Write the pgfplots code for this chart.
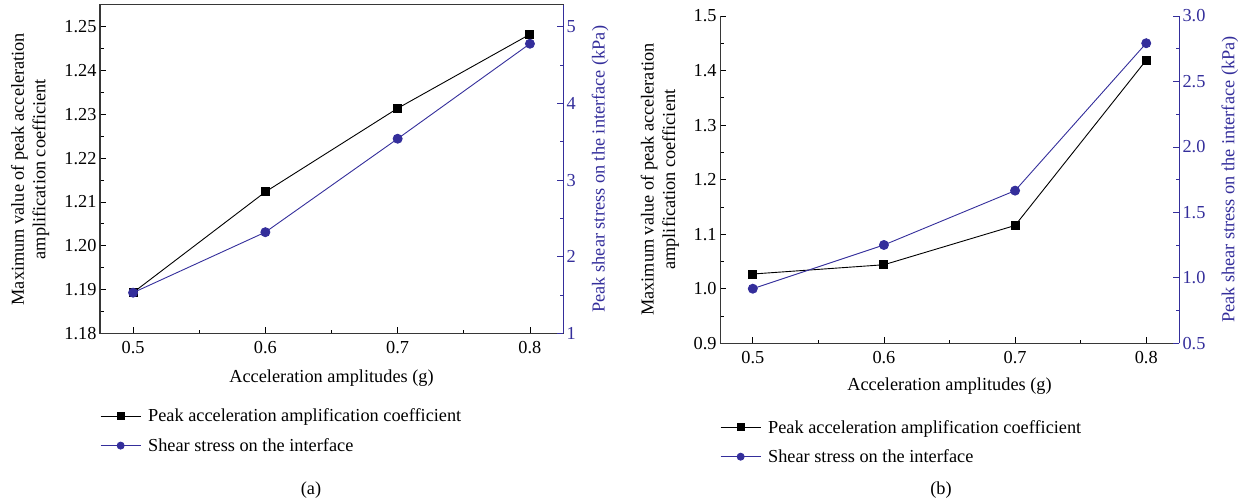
\documentclass[border=0pt]{standalone}
\usepackage{pgfplots}
\pgfplotsset{compat=1.18}
\usepackage{fontspec}
\setmainfont{Liberation Serif}
\definecolor{sblue}{RGB}{52,46,155}
\definecolor{axgray}{RGB}{55,55,55}
\newcommand{\fs}{\fontsize{18.3}{21.5}\selectfont}

\pgfplotsset{
  base/.style={
    scale only axis,
    xmin=0.475, xmax=0.825,
    tick align=inside,
    major tick length=6pt, minor tick length=3.5pt,
    every tick/.style={line width=0.8pt},
    axis line style={line width=1pt},
    tick label style={font=\fs},
    label style={font=\fs},
    /pgf/number format/assume math mode=true,
    /pgf/number format/fixed,
    /pgf/number format/fixed zerofill,
  },
  blk/.style={black, line width=0.9pt, mark=square*, mark size=4pt, mark options={solid}},
  blu/.style={sblue, line width=0.9pt, mark=*, mark size=4.5pt, mark options={solid}},
  leg/.style={
    legend style={draw=none, fill=none, font=\fs, anchor=north west,
      inner sep=0pt, row sep=11pt, column sep=5pt, nodes={inner sep=2pt}},
    legend cell align=left,
    legend image code/.code={\draw[mark repeat=2,mark phase=2,mark size=3.5pt] plot coordinates {(0pt,0pt) (20pt,0pt) (40pt,0pt)};},
  },
}

\begin{document}
\begin{tikzpicture}[x=1pt,y=1pt]
\path[use as bounding box] (0,0) rectangle (1246,502);

% ---------------- (a) ----------------
\begin{axis}[base,
  at={(100pt,168.7pt)}, anchor=south west,
  width=463pt, height=328.3pt,
  xtick pos=bottom, ytick pos=left,
  axis line style={line width=1pt, color=axgray},
  xtick={0.5,0.6,0.7,0.8}, minor x tick num=1,
  xticklabel style={/pgf/number format/precision=1, yshift=-5pt},
  ymin=1.18, ymax=1.255,
  ytick={1.18,1.19,1.20,1.21,1.22,1.23,1.24,1.25}, minor y tick num=1,
  yticklabel style={/pgf/number format/precision=2},
  xlabel={Acceleration amplitudes (g)},
  xlabel style={at={(axis description cs:0.5,-0.136)}, anchor=center},
  ylabel={Maximum value of peak acceleration\\amplification coefficient},
  ylabel style={at={(axis description cs:-0.151,0.5)}, anchor=center, align=center},
]
\addplot[blk] coordinates {(0.5,1.1893) (0.6,1.2123) (0.7,1.2314) (0.8,1.2483)};
\end{axis}
\begin{axis}[base, leg,
  at={(100pt,168.7pt)}, anchor=south west,
  width=463pt, height=328.3pt,
  axis x line=none, axis y line*=right,
  axis line style={line width=1pt, color=sblue},
  ytick style={sblue},
  yticklabel style={sblue, /pgf/number format/precision=0, /pgf/number format/fixed zerofill=false},
  ymin=1, ymax=5.286,
  ytick={1,2,3,4,5}, minor y tick num=1,
  ylabel={Peak shear stress on the interface (kPa)},
  ylabel style={sblue, at={(axis description cs:1.08,0.5)}, anchor=center},
  legend style={at={(axis description cs:0,-0.224)}},
]
\addlegendimage{blk}
\addlegendentry{Peak acceleration amplification coefficient}
\addplot[blu] coordinates {(0.5,1.53) (0.6,2.32) (0.7,3.54) (0.8,4.78)};
\addlegendentry{Shear stress on the interface}
\end{axis}
\node[font=\fs] at (311,12) {(a)};

% ---------------- (b) ----------------
\begin{axis}[base,
  at={(720pt,158.7pt)}, anchor=south west,
  width=459pt, height=327.3pt,
  axis x line*=bottom, axis y line*=left,
  axis line style={line width=1pt, color=axgray},
  xtick={0.5,0.6,0.7,0.8}, minor x tick num=1,
  xticklabel style={/pgf/number format/precision=1, yshift=-5pt},
  ymin=0.9, ymax=1.5,
  ytick={0.9,1.0,1.1,1.2,1.3,1.4,1.5}, minor y tick num=1,
  yticklabel style={/pgf/number format/precision=1},
  xlabel={Acceleration amplitudes (g)},
  xlabel style={at={(axis description cs:0.5,-0.130)}, anchor=center},
  ylabel={Maximum value of peak acceleration\\amplification coefficient},
  ylabel style={at={(axis description cs:-0.131,0.5)}, anchor=center, align=center},
]
\addplot[blk] coordinates {(0.5,1.027) (0.6,1.044) (0.7,1.116) (0.8,1.419)};
\end{axis}
\begin{axis}[base, leg,
  at={(720pt,158.7pt)}, anchor=south west,
  width=459pt, height=327.3pt,
  axis x line=none, axis y line*=right,
  axis line style={line width=1pt, color=sblue},
  ytick style={sblue},
  yticklabel style={sblue, /pgf/number format/precision=1},
  ymin=0.5, ymax=3.0,
  ytick={0.5,1.0,1.5,2.0,2.5,3.0}, minor y tick num=1,
  ylabel={Peak shear stress on the interface (kPa)},
  ylabel style={sblue, at={(axis description cs:1.111,0.5)}, anchor=center},
  legend style={at={(axis description cs:0,-0.228)}},
]
\addlegendimage{blk}
\addlegendentry{Peak acceleration amplification coefficient}
\addplot[blu] coordinates {(0.5,0.917) (0.6,1.251) (0.7,1.666) (0.8,2.792)};
\addlegendentry{Shear stress on the interface}
\end{axis}
\node[font=\fs] at (941,12) {(b)};
\end{tikzpicture}
\end{document}
